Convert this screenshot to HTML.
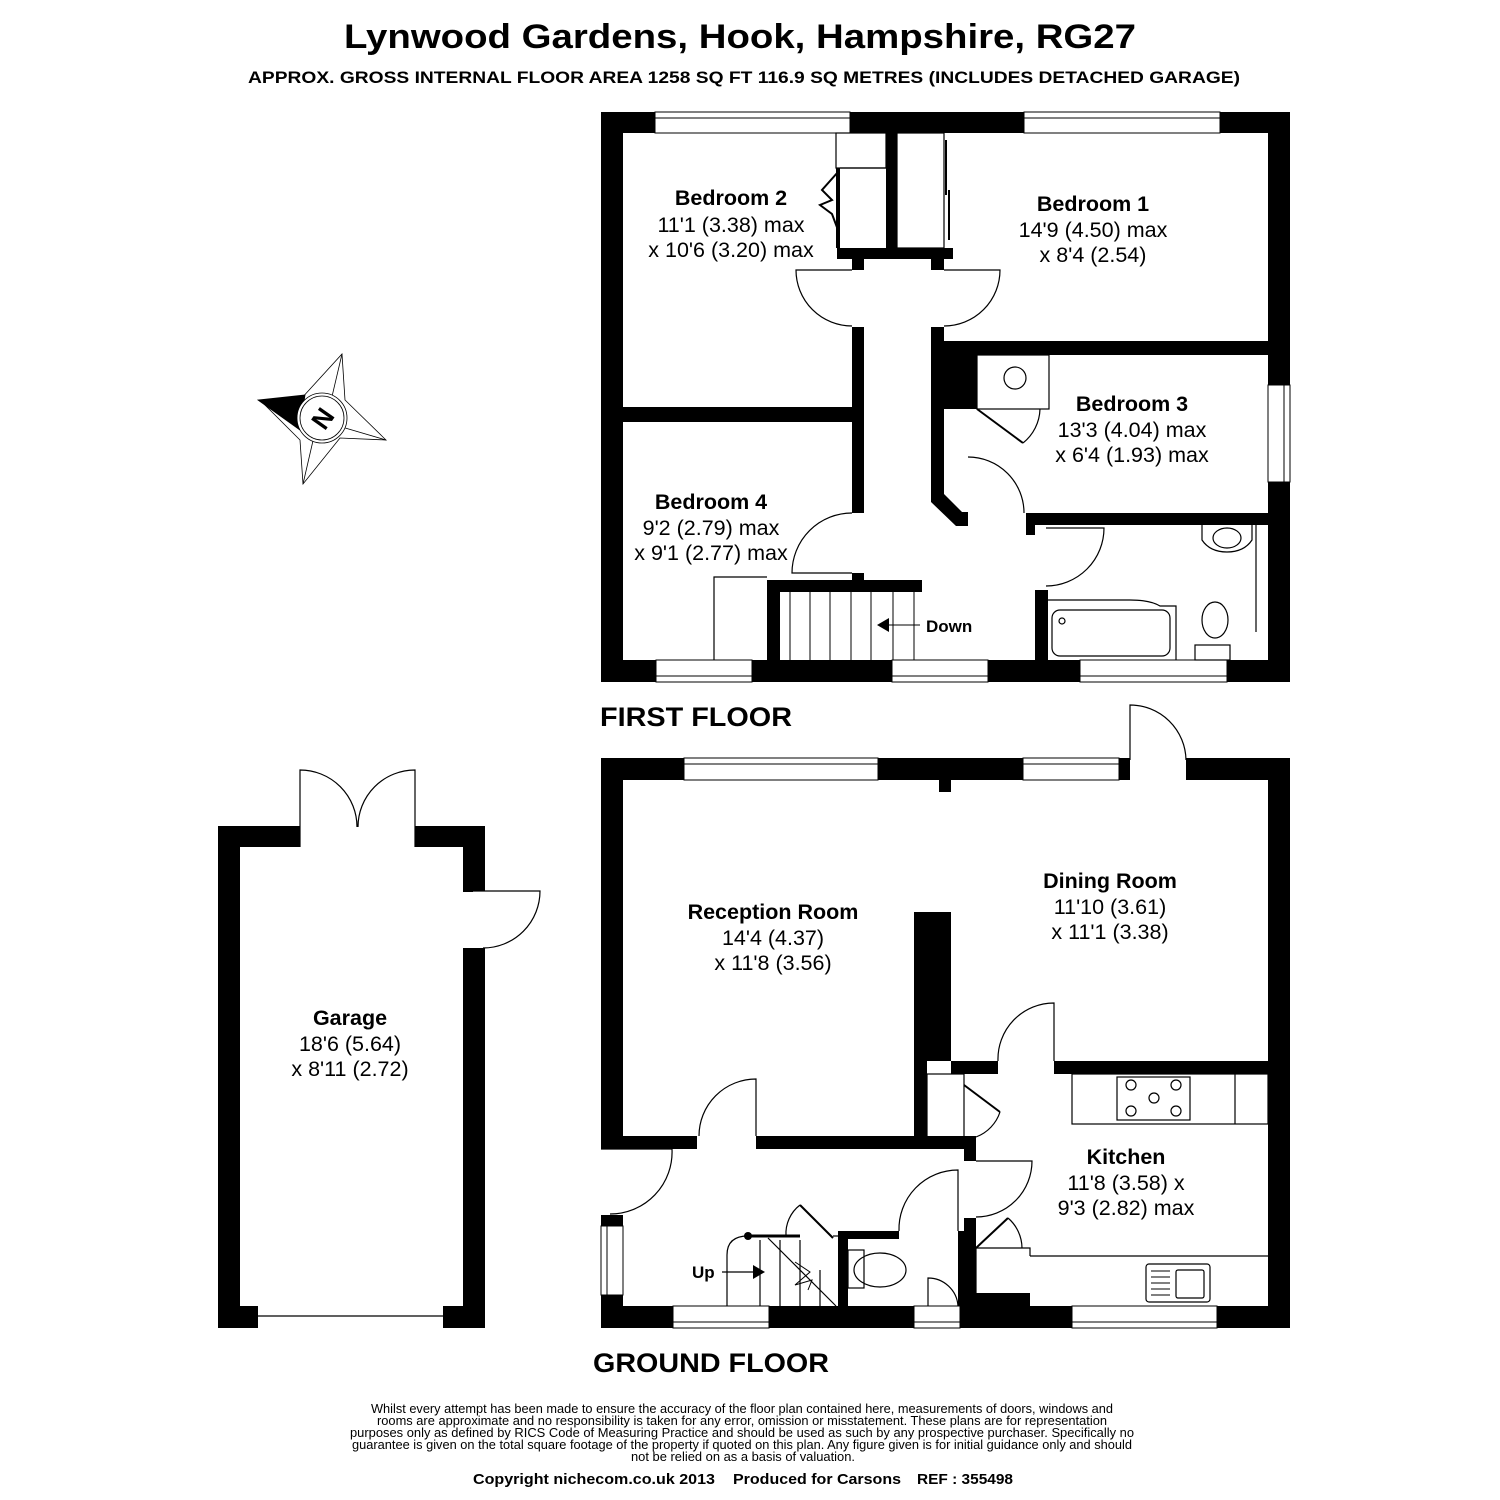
<!DOCTYPE html>
<html><head><meta charset="utf-8"><style>
html,body{margin:0;padding:0;background:#fff;}
svg{display:block;}
text{font-family:"Liberation Sans",Arial,sans-serif;fill:#000;}
.b{font-weight:bold;}
.n{font-family:"Liberation Sans Narrow","Liberation Sans",sans-serif;}
.l{font-size:21.5px;font-weight:bold;}
.d{font-size:21.5px;}
</style></head><body>
<svg width="1500" height="1500" viewBox="0 0 1500 1500" xmlns="http://www.w3.org/2000/svg">
<rect width="1500" height="1500" fill="#fff"/>
<text x="740" y="48" text-anchor="middle" class="b" font-size="34" textLength="792" lengthAdjust="spacingAndGlyphs">Lynwood Gardens, Hook, Hampshire, RG27</text>
<text x="744" y="83" text-anchor="middle" class="b" font-size="17" textLength="992" lengthAdjust="spacingAndGlyphs">APPROX. GROSS INTERNAL FLOOR AREA 1258 SQ FT 116.9 SQ METRES (INCLUDES DETACHED GARAGE)</text>

<!-- Compass -->
<g stroke="#000" stroke-width="0.8" fill="none">
<polygon points="342,354 345,400 386,440 340,438 303,484 300,440 260,400 300,400" fill="#fff"/>
<line x1="342" y1="354" x2="330" y2="405"/><line x1="386" y1="440" x2="335" y2="425"/>
<line x1="303" y1="484" x2="315" y2="432"/>
<polygon points="258,400 305,395 300,430" fill="#000"/>
<circle cx="322" cy="418" r="25" fill="#fff"/><circle cx="322" cy="418" r="22"/>
</g>
<text x="322" y="428" text-anchor="middle" class="b" font-size="26" transform="rotate(-55 322 418)">N</text>

<!-- ================= FIRST FLOOR ================= -->
<rect x="601" y="112" width="689" height="570" fill="#000"/>
<rect x="623" y="133" width="645" height="527" fill="#fff"/>
<g fill="#fff" stroke="#000" stroke-width="1">
<rect x="655" y="112" width="195" height="21"/><line x1="655" y1="118" x2="850" y2="118"/>
<rect x="1024" y="112" width="196" height="21"/><line x1="1024" y1="118" x2="1220" y2="118"/>
<rect x="1268" y="385" width="22" height="97"/><line x1="1284" y1="385" x2="1284" y2="482"/>
<rect x="656" y="660" width="96" height="22"/><line x1="656" y1="676" x2="752" y2="676"/>
<rect x="892" y="660" width="96" height="22"/><line x1="892" y1="676" x2="988" y2="676"/>
<rect x="1080" y="660" width="147" height="22"/><line x1="1080" y1="676" x2="1227" y2="676"/>
</g>
<g fill="#000">
<rect x="623" y="407" width="229" height="15"/>
<rect x="837" y="248" width="116" height="11"/>
<rect x="852" y="259" width="12" height="11"/>
<rect x="931" y="259" width="13" height="11"/>
<rect x="852" y="327" width="12" height="186"/>
<rect x="852" y="573" width="12" height="8"/>
<rect x="886" y="133" width="11" height="116"/>
<rect x="836" y="168" width="4" height="80"/>
<polygon points="931,327 944,327 944,494 962,512 968,512 968,526 956,526 931,502"/>
<rect x="944" y="341" width="324" height="14"/>
<rect x="944" y="355" width="33" height="54"/>
<rect x="1026" y="513" width="242" height="12"/>
<rect x="1026" y="525" width="9" height="10"/>
<rect x="1035" y="590" width="13" height="70"/>
<rect x="767" y="580" width="155" height="12"/>
<rect x="767" y="592" width="13" height="68"/>
</g>
<g fill="none" stroke="#000" stroke-width="1.2">
<rect x="836" y="133" width="50" height="35"/>
<line x1="840" y1="168" x2="886" y2="168"/>
<polyline points="838,172 822,190 832,200 820,205 832,214 838,230" stroke-width="2"/>
<rect x="897" y="133" width="47" height="115"/>
<line x1="946" y1="140" x2="946" y2="195" stroke-width="2"/>
<line x1="949" y1="190" x2="949" y2="240" stroke-width="2"/>
<path d="M852,270 H796 A56,56 0 0 0 852,326"/>
<path d="M944,270 H1000 A56,56 0 0 1 944,326"/>
<path d="M852,513 A60,60 0 0 0 792,573 H852"/>
<path d="M968,457 A56,56 0 0 1 1024,513"/>
<path d="M1046,528 H1104 A58,58 0 0 1 1046,586"/>
<rect x="977" y="355" width="72" height="54"/>
<circle cx="1015" cy="378" r="11"/>
<line x1="977" y1="409" x2="1023" y2="443" stroke-width="2"/>
<path d="M1023,443 A45,45 0 0 0 1040,409"/>
<polyline points="714,660 714,577 767,577"/>
<g stroke-width="1">
<line x1="790" y1="592" x2="790" y2="660"/><line x1="810" y1="592" x2="810" y2="660"/>
<line x1="830" y1="592" x2="830" y2="660"/><line x1="851" y1="592" x2="851" y2="660"/>
<line x1="871" y1="592" x2="871" y2="660"/><line x1="893" y1="592" x2="893" y2="660"/>
<line x1="914" y1="592" x2="914" y2="660"/>
<line x1="888" y1="625" x2="920" y2="625"/>
</g>
<path d="M1048,600 H1130 Q1150,600 1160,606 H1176 V660"/>
<rect x="1052" y="610" width="118" height="46" rx="8"/>
<circle cx="1062" cy="621" r="3"/>
<ellipse cx="1215" cy="620" rx="13" ry="18"/>
<rect x="1195" y="645" width="35" height="15"/>
<line x1="1256" y1="525" x2="1256" y2="632"/>
<path d="M1202,525 V540 Q1210,552 1227,552 Q1244,552 1252,540 V525"/>
<ellipse cx="1227" cy="538" rx="14" ry="10"/>
</g>
<polygon points="877,625 889,618 889,632" fill="#000"/>
<text x="926" y="632" class="b" font-size="17">Down</text>

<text x="731" y="205" text-anchor="middle" class="l">Bedroom 2</text>
<text x="731" y="232" text-anchor="middle" class="d">11'1 (3.38) max</text>
<text x="731" y="257" text-anchor="middle" class="d">x 10'6 (3.20) max</text>
<text x="1093" y="211" text-anchor="middle" class="l">Bedroom 1</text>
<text x="1093" y="237" text-anchor="middle" class="d">14'9 (4.50) max</text>
<text x="1093" y="262" text-anchor="middle" class="d">x 8'4 (2.54)</text>
<text x="1132" y="411" text-anchor="middle" class="l">Bedroom 3</text>
<text x="1132" y="437" text-anchor="middle" class="d">13'3 (4.04) max</text>
<text x="1132" y="462" text-anchor="middle" class="d">x 6'4 (1.93) max</text>
<text x="711" y="509" text-anchor="middle" class="l">Bedroom 4</text>
<text x="711" y="535" text-anchor="middle" class="d">9'2 (2.79) max</text>
<text x="711" y="560" text-anchor="middle" class="d">x 9'1 (2.77) max</text>

<text x="600" y="726" class="b" font-size="27" textLength="192" lengthAdjust="spacingAndGlyphs">FIRST FLOOR</text>

<!-- ================= GROUND FLOOR ================= -->
<rect x="601" y="758" width="689" height="570" fill="#000"/>
<rect x="623" y="780" width="645" height="526" fill="#fff"/>
<g fill="#fff" stroke="#000" stroke-width="1">
<rect x="684" y="758" width="194" height="22"/><line x1="684" y1="764" x2="878" y2="764"/>
<rect x="1023" y="758" width="96" height="22"/><line x1="1023" y1="764" x2="1119" y2="764"/>
<rect x="601" y="1226" width="22" height="69"/><line x1="607" y1="1226" x2="607" y2="1295"/>
<rect x="673" y="1306" width="96" height="22"/><line x1="673" y1="1322" x2="769" y2="1322"/>
<rect x="914" y="1306" width="46" height="22"/><line x1="914" y1="1322" x2="960" y2="1322"/>
<rect x="1072" y="1306" width="145" height="22"/><line x1="1072" y1="1322" x2="1217" y2="1322"/>
</g>
<g fill="#fff">
<rect x="1130" y="750" width="56" height="31"/>
<rect x="598" y="1149" width="26" height="66"/>
</g>
<g fill="#000">
<rect x="939" y="780" width="12" height="12"/>
<rect x="914" y="912" width="37" height="149"/>
<rect x="914" y="1061" width="13" height="76"/>
<rect x="951" y="1061" width="47" height="13"/>
<rect x="1054" y="1061" width="214" height="13"/>
<rect x="623" y="1136" width="74" height="13"/>
<rect x="756" y="1136" width="220" height="13"/>
<rect x="964" y="1149" width="12" height="12"/>
<rect x="964" y="1218" width="12" height="88"/>
<rect x="838" y="1231" width="61" height="8"/>
<rect x="838" y="1239" width="10" height="67"/>
<rect x="958" y="1231" width="6" height="75"/>
<rect x="976" y="1293" width="54" height="13"/>
<circle cx="748" cy="1236" r="4"/>
</g>
<g fill="none" stroke="#000" stroke-width="1.2">
<path d="M1130,760 V705 A56,56 0 0 1 1186,760"/>
<path d="M1054,1061 V1003 A56,56 0 0 0 998,1061"/>
<path d="M756,1136 V1079 A57,57 0 0 0 699,1136"/>
<path d="M976,1161 H1032 A56,56 0 0 1 976,1217"/>
<path d="M601,1149 H672 A62,62 0 0 1 610,1214"/>
<path d="M958,1231 V1170 A59,59 0 0 0 899,1231"/>
<rect x="927" y="1074" width="37" height="63"/>
<line x1="964" y1="1085" x2="1000" y2="1112" stroke-width="2"/>
<path d="M1000,1112 A40,40 0 0 1 976,1137"/>
<rect x="1072" y="1074" width="196" height="50"/>
<rect x="1117" y="1077" width="73" height="43"/>
<circle cx="1131" cy="1085" r="5"/><circle cx="1176" cy="1085" r="5"/>
<circle cx="1154" cy="1098" r="5"/><circle cx="1131" cy="1111" r="5"/><circle cx="1176" cy="1111" r="5"/>
<line x1="1235" y1="1074" x2="1235" y2="1124"/>
<line x1="1030" y1="1256" x2="1268" y2="1256"/>
<rect x="1146" y="1264" width="64" height="38" rx="3"/>
<rect x="1176" y="1270" width="28" height="28" rx="2"/>
<g stroke-width="1"><line x1="1151" y1="1271" x2="1170" y2="1271"/><line x1="1151" y1="1277" x2="1170" y2="1277"/><line x1="1151" y1="1283" x2="1170" y2="1283"/><line x1="1151" y1="1289" x2="1170" y2="1289"/><line x1="1151" y1="1295" x2="1170" y2="1295"/></g>
<polyline points="976,1293 976,1248 1030,1248 1030,1256"/>
<line x1="976" y1="1248" x2="1008" y2="1218" stroke-width="2"/>
<path d="M1008,1218 A40,40 0 0 1 1022,1248"/>
<line x1="748" y1="1236" x2="800" y2="1236" stroke-width="3"/>
<path d="M748,1236 Q727,1236 727,1255 V1306"/>
<line x1="760" y1="1240" x2="760" y2="1306"/><line x1="780" y1="1240" x2="780" y2="1306"/>
<line x1="800" y1="1240" x2="800" y2="1306"/><line x1="820" y1="1270" x2="820" y2="1306"/>
<line x1="768" y1="1238" x2="836" y2="1306"/>
<polyline points="795,1262 810,1272 795,1285 812,1280 808,1290" stroke-width="1"/>
<line x1="800" y1="1205" x2="833" y2="1238" stroke-width="2"/>
<path d="M800,1205 A36,36 0 0 0 786,1236"/>
<line x1="833" y1="1236" x2="838" y2="1236"/>
<rect x="848" y="1250" width="16" height="38"/>
<ellipse cx="880" cy="1270" rx="26" ry="17"/>
<path d="M958,1306 A30,30 0 0 0 928,1278 V1306"/>
<line x1="722" y1="1272" x2="755" y2="1272"/>
</g>
<polygon points="765,1272 753,1265 753,1279" fill="#000"/>
<text x="692" y="1278" class="b" font-size="17">Up</text>

<text x="773" y="919" text-anchor="middle" class="l">Reception Room</text>
<text x="773" y="945" text-anchor="middle" class="d">14'4 (4.37)</text>
<text x="773" y="970" text-anchor="middle" class="d">x 11'8 (3.56)</text>
<text x="1110" y="888" text-anchor="middle" class="l">Dining Room</text>
<text x="1110" y="914" text-anchor="middle" class="d">11'10 (3.61)</text>
<text x="1110" y="939" text-anchor="middle" class="d">x 11'1 (3.38)</text>
<text x="1126" y="1164" text-anchor="middle" class="l">Kitchen</text>
<text x="1126" y="1190" text-anchor="middle" class="d">11'8 (3.58) x</text>
<text x="1126" y="1215" text-anchor="middle" class="d">9'3 (2.82) max</text>

<text x="593" y="1372" class="b" font-size="27" textLength="236" lengthAdjust="spacingAndGlyphs">GROUND FLOOR</text>

<!-- ================= GARAGE ================= -->
<rect x="218" y="826" width="267" height="502" fill="#000"/>
<rect x="240" y="847" width="223" height="459" fill="#fff"/>
<rect x="300" y="820" width="115" height="28" fill="#fff"/>
<rect x="460" y="891" width="30" height="57" fill="#fff"/>
<rect x="258" y="1305" width="185" height="25" fill="#fff"/>
<rect x="463" y="888" width="10" height="4" fill="#000"/>
<g fill="none" stroke="#000" stroke-width="1.2">
<path d="M300,847 V770 A57,57 0 0 1 357,827"/>
<path d="M415,847 V770 A57,57 0 0 0 358,827"/>
<path d="M473,891 H540 A57,57 0 0 1 483,948"/>
<line x1="258" y1="1316" x2="443" y2="1316"/>
</g>
<text x="350" y="1025" text-anchor="middle" class="l">Garage</text>
<text x="350" y="1051" text-anchor="middle" class="d">18'6 (5.64)</text>
<text x="350" y="1076" text-anchor="middle" class="d">x 8'11 (2.72)</text>

<!-- Footer -->
<g font-size="12.5" text-anchor="middle">
<text x="742" y="1413" class="n" textLength="742" lengthAdjust="spacingAndGlyphs">Whilst every attempt has been made to ensure the accuracy of the floor plan contained here, measurements of doors, windows and</text>
<text x="742" y="1425" class="n" textLength="730" lengthAdjust="spacingAndGlyphs">rooms are approximate and no responsibility is taken for any error, omission or misstatement. These plans are for representation</text>
<text x="742" y="1437" class="n" textLength="784" lengthAdjust="spacingAndGlyphs">purposes only as defined by RICS Code of Measuring Practice and should be used as such by any prospective purchaser.  Specifically no</text>
<text x="742" y="1449" class="n" textLength="780" lengthAdjust="spacingAndGlyphs">guarantee is given on the total square footage of the property if quoted on this plan. Any figure given is for initial guidance only and should</text>
<text x="743" y="1461" class="n" textLength="224" lengthAdjust="spacingAndGlyphs">not be relied on as a basis of valuation.</text>
</g>
<g class="b" font-size="15">
<text x="473" y="1484" class="n b" textLength="242" lengthAdjust="spacingAndGlyphs">Copyright nichecom.co.uk 2013</text>
<text x="733" y="1484" class="n b" textLength="168" lengthAdjust="spacingAndGlyphs">Produced for Carsons</text>
<text x="917" y="1484" class="n b" textLength="96" lengthAdjust="spacingAndGlyphs">REF : 355498</text>
</g>
</svg>
</body></html>
